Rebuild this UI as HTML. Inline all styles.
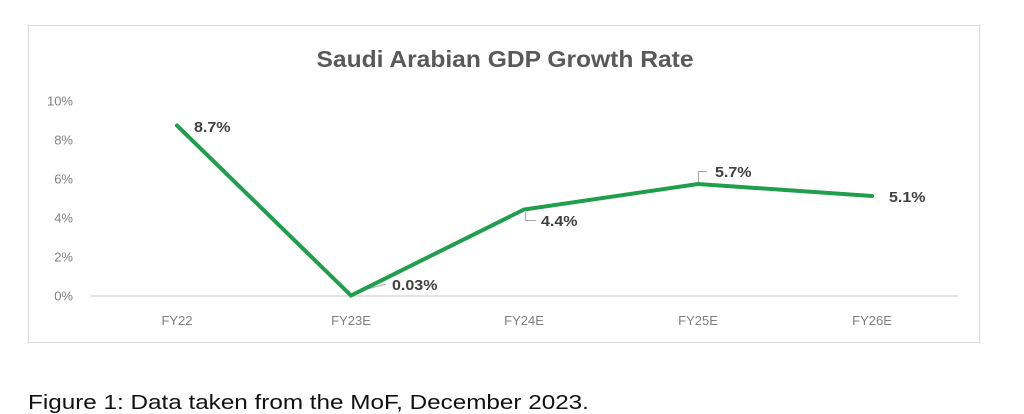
<!DOCTYPE html>
<html><head><meta charset="utf-8"><style>
html,body{margin:0;padding:0;background:#fff;}
svg{display:block;}
</style></head><body>
<svg width="1024" height="414" viewBox="0 0 1024 414" xmlns="http://www.w3.org/2000/svg">
<rect x="0" y="0" width="1024" height="414" fill="#fff"/>
<rect x="28.5" y="25.5" width="951" height="317" fill="#fff" stroke="#d9d9d9" stroke-width="1"/>
<text x="505" y="67" text-anchor="middle" font-family="Liberation Sans, sans-serif" font-weight="bold" font-size="23" fill="#595959" textLength="377" lengthAdjust="spacingAndGlyphs">Saudi Arabian GDP Growth Rate</text>
<g font-family="Liberation Sans, sans-serif" font-size="13" fill="#7f7f7f" text-anchor="end">
<text x="73" y="105.5">10%</text>
<text x="73" y="144.5">8%</text>
<text x="73" y="183.5">6%</text>
<text x="73" y="222.5">4%</text>
<text x="73" y="261.5">2%</text>
<text x="73" y="300.5">0%</text>
</g>
<line x1="91" y1="296" x2="958" y2="296" stroke="#d9d9d9" stroke-width="1.5"/>
<g font-family="Liberation Sans, sans-serif" font-size="13" fill="#7f7f7f" text-anchor="middle">
<text x="177" y="325">FY22</text>
<text x="351" y="325">FY23E</text>
<text x="524" y="325">FY24E</text>
<text x="698" y="325">FY25E</text>
<text x="872" y="325">FY26E</text>
</g>
<g stroke="#a6a6a6" stroke-width="1" fill="none">
<polyline points="360,291 386,284"/>
<polyline points="525.5,212 525.5,220.5 536,220.5"/>
<polyline points="698.5,183 698.5,171.5 707,171.5"/>
</g>
<polyline points="177,125.5 351,295.5 524,209.5 698,184 872,196" fill="none" stroke="#1f9e4c" stroke-width="4" stroke-linejoin="miter" stroke-linecap="round"/>
<g font-family="Liberation Sans, sans-serif" font-size="15" font-weight="bold" fill="#404040">
<text transform="translate(194,132) scale(1.07,1)">8.7%</text>
<text transform="translate(392,290) scale(1.07,1)">0.03%</text>
<text transform="translate(541,226) scale(1.07,1)">4.4%</text>
<text transform="translate(715,177) scale(1.07,1)">5.7%</text>
<text transform="translate(889,202) scale(1.07,1)">5.1%</text>
</g>
<text transform="translate(28,409) scale(1.184,1)" font-family="Liberation Sans, Arial, sans-serif" font-size="20.5" fill="#111">Figure 1: Data taken from the MoF, December 2023.</text>
</svg>
</body></html>
